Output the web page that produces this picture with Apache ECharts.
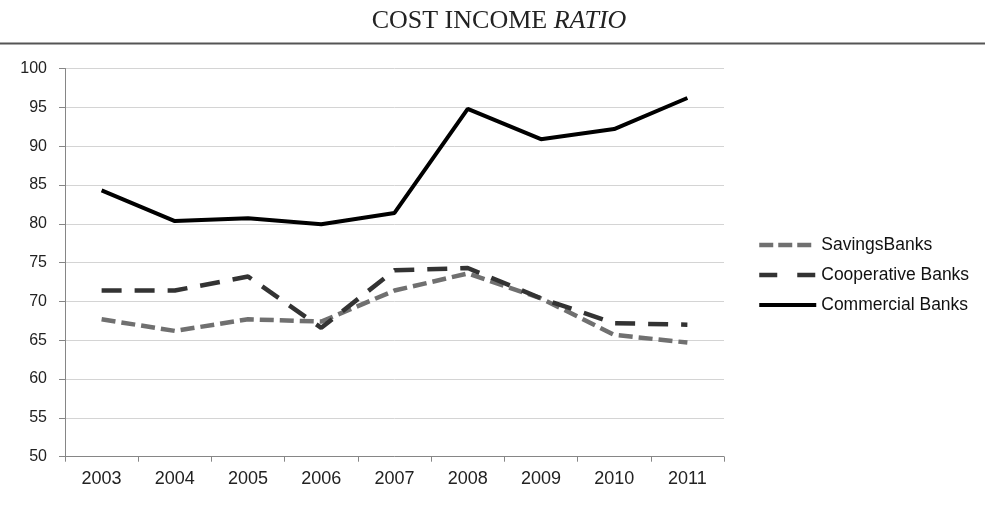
<!DOCTYPE html>
<html>
<head>
<meta charset="utf-8">
<script src="https://cdn.jsdelivr.net/npm/echarts@6/dist/echarts.min.js"></script>
<style>html,body{margin:0;padding:0;background:#fff}#c{width:985px;height:508px}</style>
</head>
<body>
<div id="c"></div>
<script>
const years = ['2003','2004','2005','2006','2007','2008','2009','2010','2011'];
const savingsBanks = [67.7, 66.2, 67.7, 67.4, 71.4, 73.6, 70.4, 65.7, 64.7];
const cooperativeBanks = [71.4, 71.4, 73.2, 66.6, 74.0, 74.3, 70.4, 67.2, 67.0];
const commercialBanks = [84.3, 80.35, 80.7, 79.95, 81.4, 94.8, 90.9, 92.2, 96.2];
const yTicks = {min: 50, max: 100, interval: 5};

const chart = echarts.init(document.getElementById('c'), null, {renderer: 'canvas'});
chart.setOption({
  backgroundColor: '#fff',
  animation: false,
  title: {
    text: 'COST INCOME {i|RATIO}',
    left: 494,
    textAlign: 'center',
    top: 3,
    textStyle: {
      fontFamily: 'Liberation Serif',
      fontSize: 26,
      fontWeight: 'normal',
      color: '#222',
      rich: {i: {fontFamily: 'Liberation Serif', fontStyle: 'italic', fontSize: 26, color: '#222'}}
    }
  },
  graphic: [{
    type: 'line',
    shape: {x1: 0, y1: 43.5, x2: 985, y2: 43.5},
    style: {stroke: '#555', lineWidth: 2}
  }],
  grid: {left: 65, right: 261, top: 68.5, bottom: 51.3, containLabel: false},
  legend: {
    orient: 'vertical',
    left: 757,
    top: 236,
    padding: 0,
    itemWidth: 57,
    itemHeight: 14,
    itemGap: 12,
    itemStyle: {opacity: 0},
    textStyle: {fontFamily: 'Liberation Sans', fontSize: 17.5, color: '#111'},
    data: [
      {name: 'SavingsBanks', lineStyle: {width: 4.5, type: [14, 5], color: '#707070'}},
      {name: 'Cooperative Banks', lineStyle: {width: 4.5, type: [18, 20], color: '#333'}},
      {name: 'Commercial Banks', lineStyle: {width: 4, type: 'solid', color: '#000'}}
    ]
  },
  xAxis: {
    type: 'category',
    data: years,
    boundaryGap: true,
    axisLine: {lineStyle: {color: '#868686', width: 1}},
    axisTick: {show: true, alignWithLabel: false, length: 5, lineStyle: {color: '#868686'}},
    axisLabel: {fontFamily: 'Liberation Sans', fontSize: 18, color: '#222', margin: 13},
    splitLine: {show: false}
  },
  yAxis: {
    type: 'value',
    min: yTicks.min, max: yTicks.max, interval: yTicks.interval,
    axisLine: {show: true, lineStyle: {color: '#868686', width: 1}},
    axisTick: {show: true, inside: false, length: 6, lineStyle: {color: '#868686'}},
    axisLabel: {fontFamily: 'Liberation Sans', fontSize: 16, color: '#222', margin: 18},
    splitLine: {show: true, lineStyle: {color: '#d4d4d4', width: 1}}
  },
  series: [
    {
      name: 'SavingsBanks', type: 'line', data: savingsBanks, symbol: 'none',
      itemStyle: {color: '#707070'},
      lineStyle: {color: '#707070', width: 4.5, type: [14, 6]}
    },
    {
      name: 'Cooperative Banks', type: 'line', data: cooperativeBanks, symbol: 'none',
      itemStyle: {color: '#333'},
      lineStyle: {color: '#333', width: 4.5, type: [20, 13]}
    },
    {
      name: 'Commercial Banks', type: 'line', data: commercialBanks, symbol: 'none',
      itemStyle: {color: '#000'},
      lineStyle: {color: '#000', width: 4}
    }
  ]
});
</script>
</body>
</html>
